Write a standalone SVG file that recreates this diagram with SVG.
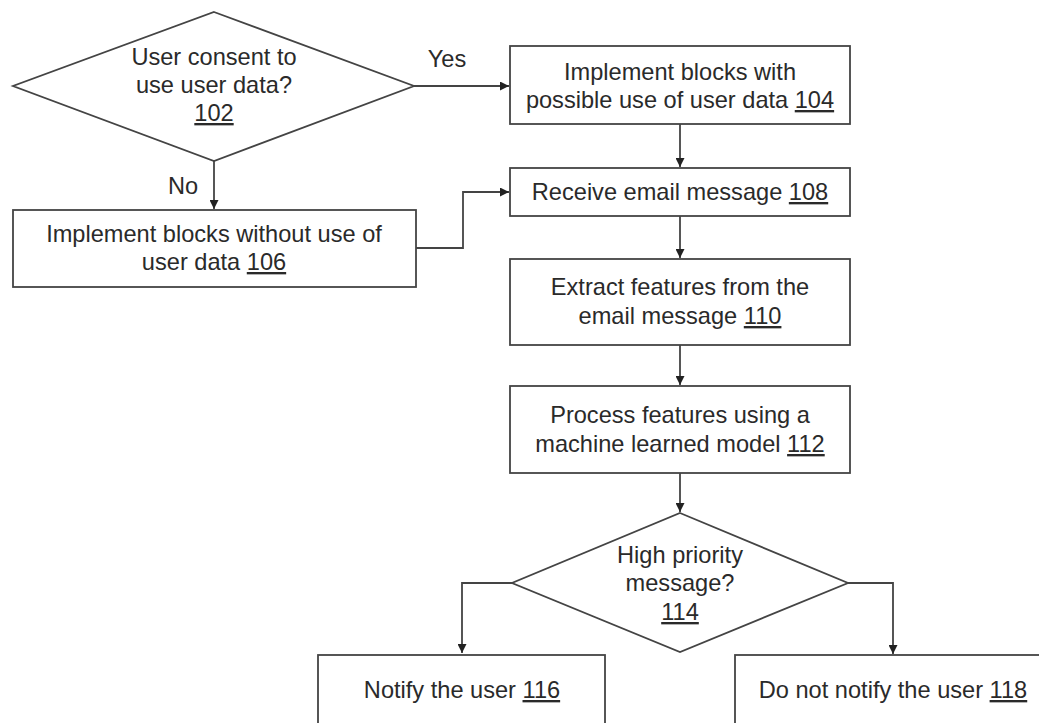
<svg xmlns="http://www.w3.org/2000/svg" width="1039" height="723" viewBox="0 0 1039 723">
<style>
.s{fill:#fff;stroke:#444;stroke-width:1.8}
.c{fill:none;stroke:#444;stroke-width:1.8}
text{font-family:"Liberation Sans",Arial,sans-serif;font-size:23.6px;fill:#2a2a2a;text-anchor:middle}
.u{text-decoration:underline}
</style>
<defs>
<marker id="a" viewBox="0 0 10 10" refX="10" refY="5" markerWidth="9" markerHeight="9" markerUnits="userSpaceOnUse" orient="auto">
<path d="M0,0 L10,5 L0,10 z" fill="#222"/>
</marker>
</defs>
<rect width="1039" height="723" fill="#fff"/>
<g id="connectors">
<path class="c" d="M414,86 H509" marker-end="url(#a)"/>
<path class="c" d="M214,161 V209" marker-end="url(#a)"/>
<path class="c" d="M680,124 V167" marker-end="url(#a)"/>
<path class="c" d="M416,248 H463 V192 H509" marker-end="url(#a)"/>
<path class="c" d="M680,216 V258" marker-end="url(#a)"/>
<path class="c" d="M680,345 V385" marker-end="url(#a)"/>
<path class="c" d="M680,473 V512" marker-end="url(#a)"/>
<path class="c" d="M512,583 H462 V653" marker-end="url(#a)"/>
<path class="c" d="M848,583 H893 V654" marker-end="url(#a)"/>
<text x="447" y="67">Yes</text>
<text x="183" y="194">No</text>
</g>
<g id="n102">
<polygon class="s" points="214,12 414,86 214,161 13,86"/>
<text x="214" y="65">User consent to</text>
<text x="214" y="93">use user data?</text>
<text x="214" y="121"><tspan class="u">102</tspan></text>
</g>
<g id="n104">
<rect class="s" x="510" y="46" width="340" height="78"/>
<text x="680" y="80">Implement blocks with</text>
<text x="680" y="108">possible use of user data <tspan class="u">104</tspan></text>
</g>
<g id="n106">
<rect class="s" x="13" y="210" width="403" height="77"/>
<text x="214" y="242">Implement blocks without use of</text>
<text x="214" y="270">user data <tspan class="u">106</tspan></text>
</g>
<g id="n108">
<rect class="s" x="510" y="168" width="340" height="48"/>
<text x="680" y="200">Receive email message <tspan class="u">108</tspan></text>
</g>
<g id="n110">
<rect class="s" x="510" y="259" width="340" height="86"/>
<text x="680" y="295">Extract features from the</text>
<text x="680" y="324">email message <tspan class="u">110</tspan></text>
</g>
<g id="n112">
<rect class="s" x="510" y="386" width="340" height="87"/>
<text x="680" y="423">Process features using a</text>
<text x="680" y="452">machine learned model <tspan class="u">112</tspan></text>
</g>
<g id="n114">
<polygon class="s" points="680,513 848,583 680,652 512,583"/>
<text x="680" y="563">High priority</text>
<text x="680" y="591">message?</text>
<text x="680" y="620"><tspan class="u">114</tspan></text>
</g>
<g id="n116">
<rect class="s" x="318" y="655" width="287" height="90"/>
<text x="462" y="698">Notify the user <tspan class="u">116</tspan></text>
</g>
<g id="n118">
<rect class="s" x="735" y="655" width="316" height="90"/>
<text x="893" y="698">Do not notify the user <tspan class="u">118</tspan></text>
</g>
</svg>
